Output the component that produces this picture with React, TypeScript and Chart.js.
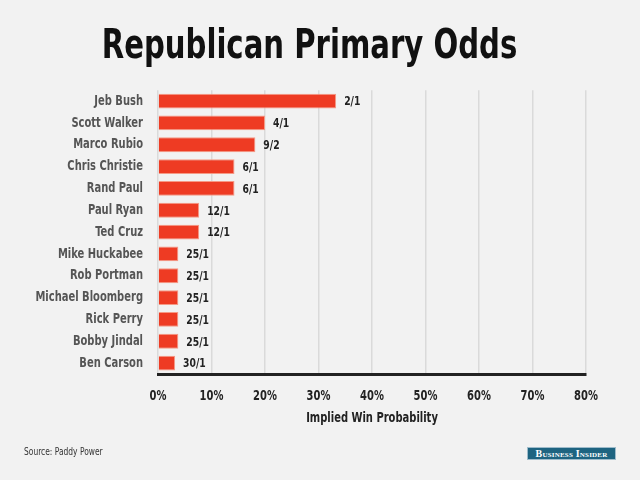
import React, { useEffect, useRef } from "react";
import { Chart, registerables } from "chart.js";

Chart.register(...registerables);

const candidates = [
  "Jeb Bush",
  "Scott Walker",
  "Marco Rubio",
  "Chris Christie",
  "Rand Paul",
  "Paul Ryan",
  "Ted Cruz",
  "Mike Huckabee",
  "Rob Portman",
  "Michael Bloomberg",
  "Rick Perry",
  "Bobby Jindal",
  "Ben Carson",
];
const oddsLabels = ["2/1", "4/1", "9/2", "6/1", "6/1", "12/1", "12/1", "25/1", "25/1", "25/1", "25/1", "25/1", "30/1"];
const winProbability = [33.3, 20.0, 18.2, 14.3, 14.3, 7.7, 7.7, 3.8, 3.8, 3.8, 3.8, 3.8, 3.2];
const xMin = 0;
const xMax = 80;
const xStep = 10;

const FONT = '"DejaVu Sans Condensed", "Liberation Sans Narrow", "Roboto Condensed", "DejaVu Sans", sans-serif';
const NARROW = 0.79;

const valueLabelPlugin = {
  id: "valueLabels",
  afterDatasetsDraw(chart: any) {
    const ctx = chart.ctx;
    const meta = chart.getDatasetMeta(0);
    ctx.save();
    ctx.font = `bold 13px ${FONT}`;
    ctx.fillStyle = "#222";
    ctx.textAlign = "left";
    ctx.textBaseline = "middle";
    meta.data.forEach((el: any, i: number) => {
      ctx.fillText(oddsLabels[i], el.x + 8, el.y + 1);
    });
    ctx.restore();
  },
};

const bgPlugin = {
  id: "bg",
  beforeDraw(chart: any) {
    const ctx = chart.ctx;
    ctx.save();
    ctx.fillStyle = "#f2f2f2";
    ctx.fillRect(0, 0, chart.width, chart.height);
    ctx.restore();
  },
};

function narrowText(ctx: any) {
  if (ctx.__narrowed) return;
  ctx.__narrowed = true;
  const orig = ctx.fillText.bind(ctx);
  ctx.fillText = (text: string, x: number, y: number) => {
    ctx.save();
    ctx.translate(x, y);
    ctx.scale(NARROW, 1);
    orig(text, 0, 0);
    ctx.restore();
  };
}

export default function App() {
  const ref = useRef<HTMLCanvasElement | null>(null);

  useEffect(() => {
    if (!ref.current) return;
    const ctx = ref.current.getContext("2d");
    narrowText(ctx);
    const chart = new Chart(ctx as any, {
      type: "bar",
      data: {
        labels: candidates,
        datasets: [
          {
            data: winProbability,
            backgroundColor: "#ee3b23",
            borderColor: "#f59a86",
            borderWidth: 1,
            categoryPercentage: 1,
            barPercentage: 0.68,
          },
        ],
      },
      options: {
        indexAxis: "y",
        animation: false,
        responsive: false,
        maintainAspectRatio: false,
        layout: { padding: { left: 33, right: 54, top: 0, bottom: 46 } },
        plugins: {
          legend: { display: false },
          tooltip: { enabled: false },
          title: {
            display: true,
            text: "Republican Primary Odds",
            color: "#111",
            font: { family: FONT, size: 41, weight: "bold", lineHeight: 1.2 },
            padding: { top: 23, bottom: 18 },
          },
        },
        scales: {
          x: {
            min: xMin,
            max: xMax,
            ticks: {
              stepSize: xStep,
              callback: (v: any) => `${v}%`,
              color: "#222",
              font: { family: FONT, size: 14, weight: "bold" },
              padding: 14,
            },
            grid: { color: "#dadada", lineWidth: 1.5, drawTicks: false },
            border: { display: true, color: "#222", width: 3 },
            title: {
              display: true,
              text: "Implied Win Probability",
              color: "#222",
              font: { family: FONT, size: 14, weight: "bold" },
              padding: { top: 0, bottom: 7 },
            },
            afterFit: (scale: any) => {
              scale.height = 60;
            },
          },
          y: {
            ticks: {
              color: "#555",
              font: { family: FONT, size: 14, weight: "bold" },
              padding: 15,
            },
            grid: { display: false, drawTicks: false },
            border: { display: false },
            afterFit: (scale: any) => {
              scale.width = 125;
            },
          },
        },
      },
      plugins: [bgPlugin, valueLabelPlugin],
    });
    return () => chart.destroy();
  }, []);

  return (
    <div style={{ position: "absolute", left: 0, top: 0, width: 640, height: 480, background: "#f2f2f2", overflow: "hidden" }}>
      <canvas ref={ref} width={640} height={480} style={{ display: "block" }} />
      <div
        style={{
          position: "absolute",
          left: 24,
          top: 445,
          fontFamily: FONT,
          fontSize: 11,
          color: "#333",
          transform: "scaleX(0.76)",
          transformOrigin: "left top",
          whiteSpace: "nowrap",
        }}
      >
        Source: Paddy Power
      </div>
      <div
        style={{
          position: "absolute",
          left: 527,
          top: 447,
          width: 89,
          height: 13,
          background: "#1e6481",
          border: "1px solid #9fbccb",
          boxSizing: "border-box",
          color: "#fff",
          fontFamily: '"Liberation Serif", "DejaVu Serif", serif',
          fontWeight: "bold",
          fontSize: 10,
          fontVariant: "small-caps",
          lineHeight: "11px",
          textAlign: "center",
          letterSpacing: 0.2,
          whiteSpace: "nowrap",
        }}
      >
        Business Insider
      </div>
    </div>
  );
}
